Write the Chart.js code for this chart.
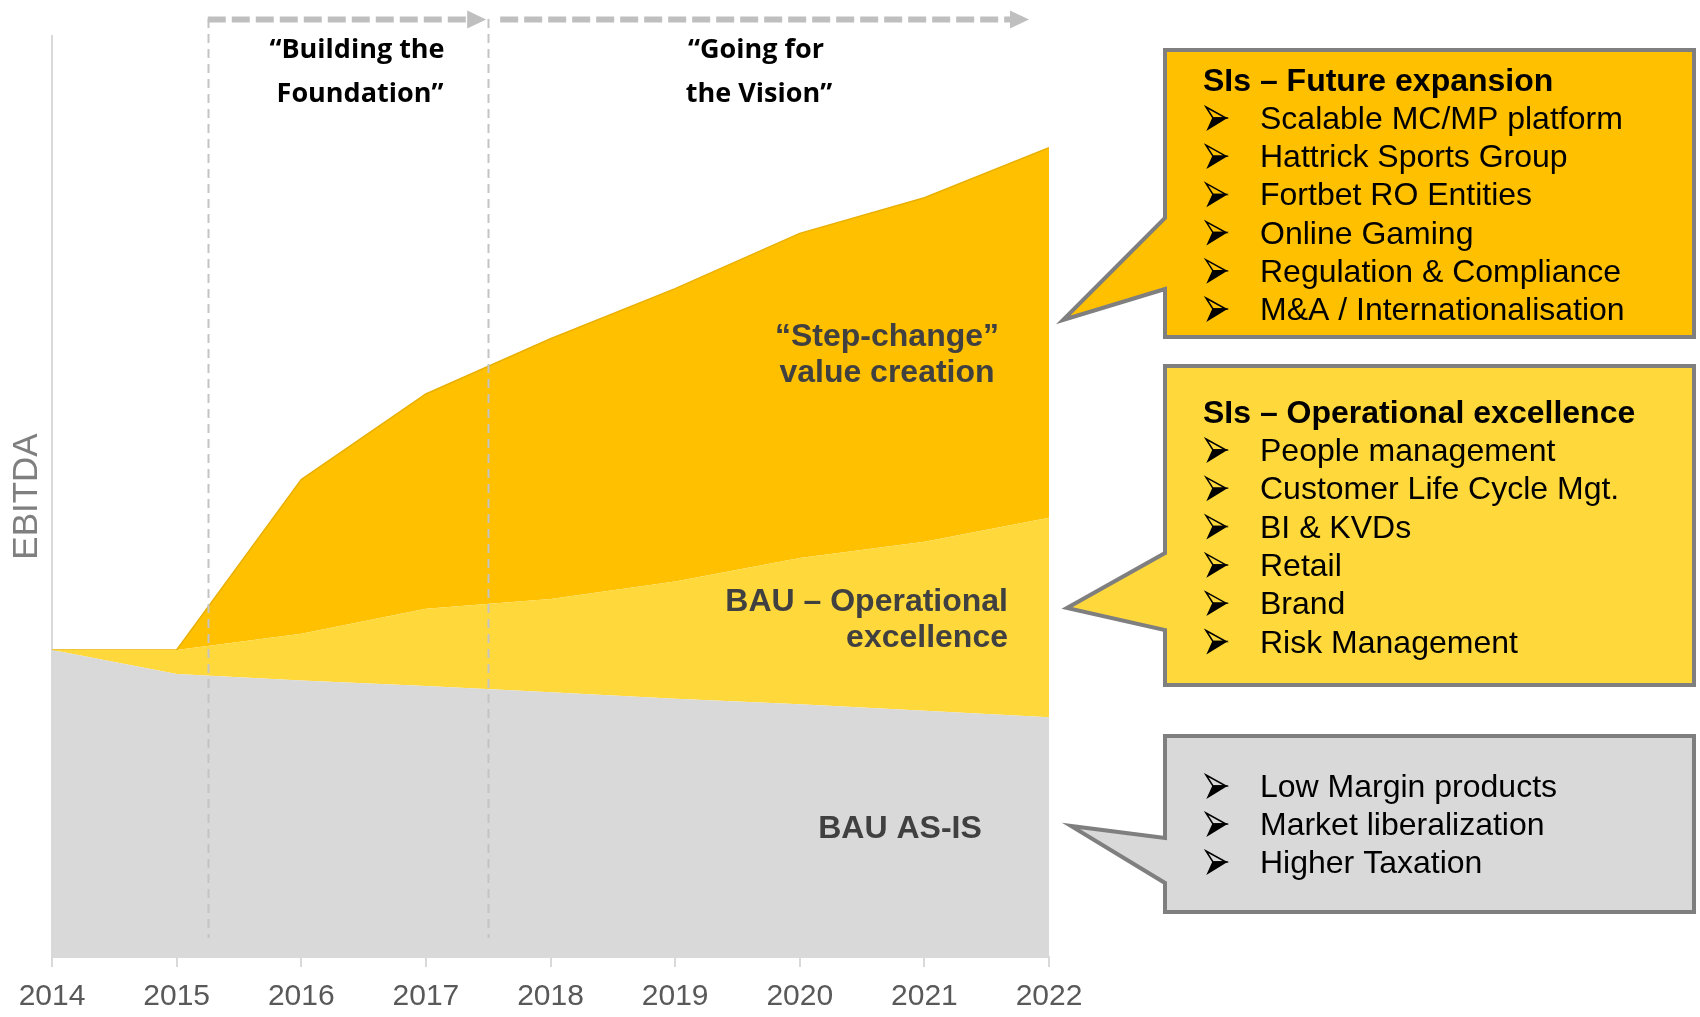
<!DOCTYPE html>
<html>
<head>
<meta charset="utf-8">
<script src="https://cdn.jsdelivr.net/npm/chart.js@4.4.1/dist/chart.umd.min.js"></script>
<style>
    html, body { margin: 0; padding: 0; background: #ffffff; }
    #wrap { width: 1700px; height: 1017px; }
</style>
</head>
<body>
<div id="wrap"><canvas id="ebitdaChart" width="1700" height="1017"></canvas></div>
<script>
// Years along the x axis
const years = [2014, 2015, 2016, 2017, 2018, 2019, 2020, 2021, 2022];

// EBITDA layers (2014 = 100), stacked bottom to top
const bauAsIs = [100, 92.2, 90.1, 88.3, 86.2, 84.1, 82.3, 80.2, 78.1];
const bauOpEx = [0, 7.8, 15.2, 25.1, 30.4, 38.2, 47.7, 55.1, 65.0];
const stepChange = [0, 0, 50.2, 70.0, 84.8, 95.4, 105.7, 112.0, 120.5];
const yMax = 300;

// Phases shown along the top
const phaseBreaks = [2015.25, 2017.5];
const phaseTitles = [['“Building the', 'Foundation”'], ['“Going for', 'the Vision”']];

// Callout texts
const futureTitle = 'SIs – Future expansion';
const futureItems = ['Scalable MC/MP platform', 'Hattrick Sports Group', 'Fortbet RO Entities',
    'Online Gaming', 'Regulation & Compliance', 'M&A / Internationalisation'];
const opexTitle = 'SIs – Operational excellence';
const opexItems = ['People management', 'Customer Life Cycle Mgt.', 'BI & KVDs',
    'Retail', 'Brand', 'Risk Management'];
const asisItems = ['Low Margin products', 'Market liberalization', 'Higher Taxation'];

const DARK = '#ffc000';
const LIGHT = '#ffd93b';
const GREY = '#d9d9d9';
const ARIAL = '"Liberation Sans", Arial, sans-serif';

function points(values) {
    return years.map((yr, i) => ({ x: yr, y: values[i] }));
}

// y is the text baseline
function txt(ctx, str, x, y, font, color, align) {
    ctx.save();
    ctx.font = font;
    ctx.fillStyle = color;
    ctx.textAlign = align || 'left';
    ctx.textBaseline = 'alphabetic';
    ctx.fillText(str, x, y);
    ctx.restore();
}

function callout(ctx, box, fill) {
    ctx.save();
    ctx.beginPath();
    ctx.moveTo(box.l, box.t);
    ctx.lineTo(box.r, box.t);
    ctx.lineTo(box.r, box.b);
    ctx.lineTo(box.l, box.b);
    ctx.lineTo(box.l, box.b2);
    ctx.lineTo(box.tx, box.ty);
    ctx.lineTo(box.l, box.b1);
    ctx.closePath();
    ctx.fillStyle = fill;
    ctx.fill();
    ctx.lineWidth = 4;
    ctx.strokeStyle = '#7f7f7f';
    ctx.lineJoin = 'miter';
    ctx.stroke();
    ctx.restore();
}

// Wingdings-style arrowhead bullet: outlined top half, solid bottom half
function arrowBullet(ctx, x, yc) {
    ctx.save();
    ctx.strokeStyle = '#000000';
    ctx.fillStyle = '#000000';
    ctx.lineWidth = 1.5;
    ctx.lineJoin = 'miter';
    ctx.beginPath();
    ctx.moveTo(x, yc - 11);
    ctx.lineTo(x + 20, yc);
    ctx.lineTo(x + 7, yc);
    ctx.closePath();
    ctx.stroke();
    ctx.beginPath();
    ctx.moveTo(x + 7, yc);
    ctx.lineTo(x + 20, yc);
    ctx.lineTo(x + 2, yc + 11);
    ctx.closePath();
    ctx.fill();
    ctx.stroke();
    ctx.restore();
}

function bulletList(ctx, items, y0, step) {
    items.forEach((item, i) => {
        const y = y0 + i * step;
        arrowBullet(ctx, 1206, y - 11);
        txt(ctx, item, 1260, y, '32px ' + ARIAL, '#000000', 'left');
    });
}

function dashedArrow(ctx, x1, x2, y) {
    ctx.save();
    ctx.strokeStyle = '#bfbfbf';
    ctx.fillStyle = '#bfbfbf';
    ctx.lineWidth = 6;
    ctx.setLineDash([18, 6]);
    ctx.beginPath();
    ctx.moveTo(x1, y);
    ctx.lineTo(x2 - 18, y);
    ctx.stroke();
    ctx.setLineDash([]);
    ctx.beginPath();
    ctx.moveTo(x2 - 19, y - 9);
    ctx.lineTo(x2, y);
    ctx.lineTo(x2 - 19, y + 9);
    ctx.closePath();
    ctx.fill();
    ctx.restore();
}

const overlayPlugin = {
    id: 'overlay',
    afterDatasetsDraw(chart) {
        const ctx = chart.ctx;
        const xs = chart.scales.x;

        // phase separators
        ctx.save();
        ctx.strokeStyle = '#c4c4c4';
        ctx.lineWidth = 2;
        ctx.setLineDash([9, 6]);
        phaseBreaks.forEach(v => {
            const x = Math.round(xs.getPixelForValue(v)) + 0.5;
            ctx.beginPath();
            ctx.moveTo(x, 19);
            ctx.lineTo(x, 938);
            ctx.stroke();
        });
        ctx.restore();

        // area labels
        const bold = 'bold 32px ' + ARIAL;
        txt(ctx, '“Step-change”', 887, 346, bold, '#404040', 'center');
        txt(ctx, 'value creation', 887, 382, bold, '#404040', 'center');
        txt(ctx, 'BAU – Operational', 1008, 611, bold, '#404040', 'right');
        txt(ctx, 'excellence', 1008, 647, bold, '#404040', 'right');
        txt(ctx, 'BAU AS-IS', 900, 838, bold, '#404040', 'center');
    },
    afterDraw(chart) {
        const ctx = chart.ctx;
        const xs = chart.scales.x;
        const xb1 = xs.getPixelForValue(phaseBreaks[0]);
        const xb2 = xs.getPixelForValue(phaseBreaks[1]);

        // phase arrows and titles
        dashedArrow(ctx, xb1, xb2 - 2, 19.5);
        dashedArrow(ctx, xb2 + 12, 1029, 19.5);
        const head = 'bold 27px "Open Sans", Lato, sans-serif';
        txt(ctx, phaseTitles[0][0], 357, 58, head, '#000000', 'center');
        txt(ctx, phaseTitles[0][1], 360, 102, head, '#000000', 'center');
        txt(ctx, phaseTitles[1][0], 756, 58, head, '#000000', 'center');
        txt(ctx, phaseTitles[1][1], 759, 102, head, '#000000', 'center');

        // callouts
        callout(ctx, { l: 1165, t: 50, r: 1694, b: 337, b1: 218, b2: 289, tx: 1063, ty: 320 }, DARK);
        callout(ctx, { l: 1165, t: 366, r: 1694, b: 685, b1: 553, b2: 630, tx: 1067, ty: 608 }, LIGHT);
        callout(ctx, { l: 1165, t: 736, r: 1694, b: 912, b1: 838, b2: 883, tx: 1071, ty: 826 }, GREY);

        const titleFont = 'bold 32px ' + ARIAL;
        txt(ctx, futureTitle, 1203, 91, titleFont, '#000000', 'left');
        bulletList(ctx, futureItems, 129, 38.2);
        txt(ctx, opexTitle, 1203, 423, titleFont, '#000000', 'left');
        bulletList(ctx, opexItems, 461, 38.3);
        bulletList(ctx, asisItems, 797, 38);
    }
};

const ctx = document.getElementById('ebitdaChart').getContext('2d');
const ebitdaChart = new Chart(ctx, {
    type: 'line',
    data: {
        datasets: [{
            label: 'BAU AS-IS',
            data: points(bauAsIs),
            fill: 'origin',
            backgroundColor: GREY,
            borderWidth: 0,
            pointRadius: 0
        }, {
            label: 'BAU – Operational excellence',
            data: points(bauOpEx),
            fill: '-1',
            backgroundColor: LIGHT,
            borderWidth: 0,
            pointRadius: 0
        }, {
            label: 'Step-change value creation',
            data: points(stepChange),
            fill: '-1',
            backgroundColor: DARK,
            borderColor: '#e9b000',
            borderWidth: 1.5,
            pointRadius: 0
        }]
    },
    options: {
        responsive: false,
        animation: false,
        layout: {
            padding: { left: 2, right: 651, top: 36, bottom: 0 }
        },
        plugins: {
            legend: { display: false },
            tooltip: { enabled: false }
        },
        elements: {
            line: { tension: 0 }
        },
        scales: {
            x: {
                type: 'linear',
                min: years[0],
                max: years[years.length - 1],
                afterFit: scale => { scale.height = 60; },
                ticks: {
                    stepSize: 1,
                    color: '#595959',
                    font: { family: ARIAL, size: 30 },
                    padding: 12,
                    maxRotation: 0,
                    callback: v => String(v)
                },
                grid: {
                    display: true,
                    drawOnChartArea: false,
                    drawTicks: true,
                    tickLength: 10,
                    color: GREY,
                    lineWidth: 2
                },
                border: { display: true, color: GREY, width: 2 }
            },
            y: {
                stacked: true,
                min: 0,
                max: yMax,
                ticks: { display: false },
                grid: { display: false, drawTicks: false },
                border: { display: true, color: GREY, width: 2 },
                title: {
                    display: true,
                    text: 'EBITDA',
                    color: '#7f7f7f',
                    font: { family: ARIAL, size: 35 },
                    padding: { top: 4, bottom: 4 }
                }
            }
        }
    },
    plugins: [overlayPlugin]
});
</script>
</body>
</html>
